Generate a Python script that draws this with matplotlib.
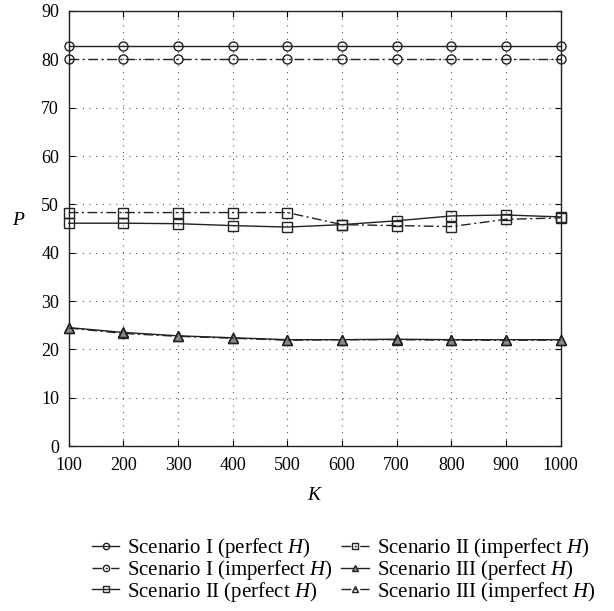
import matplotlib
matplotlib.use("Agg")
import matplotlib.pyplot as plt

plt.rcParams['font.family'] = ['Liberation Serif', 'DejaVu Serif']
plt.rcParams['mathtext.fontset'] = 'custom'
plt.rcParams['mathtext.it'] = 'Liberation Serif:italic'
plt.rcParams['mathtext.rm'] = 'Liberation Serif'

K = [100, 200, 300, 400, 500, 600, 700, 800, 900, 1000]

s1_perfect = [82.7, 82.7, 82.7, 82.7, 82.7, 82.7, 82.7, 82.7, 82.7, 82.7]
s1_imperfect = [80.0, 80.0, 80.0, 80.0, 80.0, 80.0, 80.0, 80.0, 80.0, 80.0]
s2_perfect = [46.1, 46.1, 46.0, 45.6, 45.3, 45.8, 46.6, 47.6, 47.8, 47.4]
s2_imperfect = [48.3, 48.3, 48.3, 48.3, 48.3, 45.8, 45.6, 45.4, 46.9, 47.2]
s3_perfect = [24.5, 23.5, 22.8, 22.4, 22.0, 22.0, 22.1, 22.0, 22.0, 22.0]
s3_imperfect = [24.4, 23.3, 22.7, 22.3, 21.9, 22.0, 22.0, 21.9, 21.9, 21.9]

labels = [
    r'Scenario I (perfect $H$)',
    r'Scenario I (imperfect $H$)',
    r'Scenario II (perfect $H$)',
    r'Scenario II (imperfect $H$)',
    r'Scenario III (perfect $H$)',
    r'Scenario III (imperfect $H$)',
]

fig = plt.figure(figsize=(6.14, 6.11), dpi=100)
ax = fig.add_axes([0.112, 0.270, 0.801, 0.712])

col = '#222222'
dashdot = (0, (7, 2.5, 1.5, 2.5))
common = dict(color=col, lw=1.0, markersize=6.5, markeredgewidth=1.0, clip_on=False, zorder=3)

ax.plot(K, s1_perfect, '-', marker='o', mfc='none', label=labels[0], **common)
ax.plot(K, s1_imperfect, linestyle=dashdot, marker='o', mfc='none', label=labels[1], **common)
ax.plot(K, s2_perfect, '-', marker='s', mfc='none', label=labels[2], **common)
ax.plot(K, s2_imperfect, linestyle=dashdot, marker='s', mfc='none', label=labels[3], **common)
ax.plot(K, s3_perfect, '-', marker='^', mfc='#888888', label=labels[4], **common)
ax.plot(K, s3_imperfect, linestyle=dashdot, marker='^', mfc='none', label=labels[5], **common)

ax.set_xlim(100, 1000)
ax.set_ylim(0, 90)
ax.set_xticks(K)
ax.set_yticks(range(0, 91, 10))
ax.grid(True, linestyle=(0, (1, 5)), color='#555555', lw=0.8)
ax.tick_params(direction='in', top=True, right=True, labelsize=13, length=4)
ax.tick_params(axis='x', pad=8)
ax.tick_params(axis='y', pad=7)
for sp in ax.spines.values():
    sp.set_color(col)
    sp.set_linewidth(1.0)

ax.set_xlabel(r'$K$', fontsize=14, labelpad=9)
ax.set_ylabel(r'$P$', fontsize=14, rotation=0, labelpad=16)

fig.legend(loc='lower center', bbox_to_anchor=(0.56, -0.012), ncol=2, frameon=False,
           fontsize=15, handlelength=1.3, columnspacing=0.4, handletextpad=0.4,
           labelspacing=-0.1, borderpad=0.2, markerscale=0.7)

fig.savefig('out.png', dpi=100)
